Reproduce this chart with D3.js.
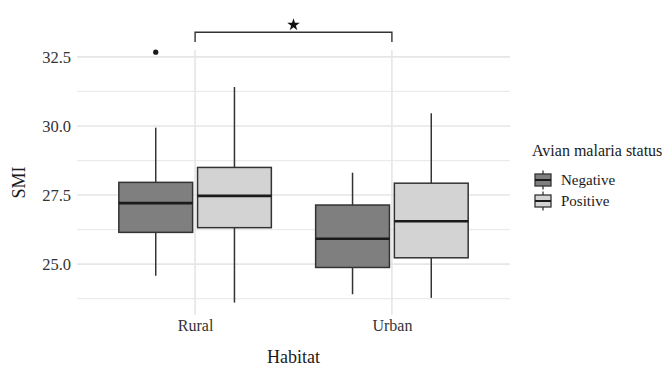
<!DOCTYPE html>
<html>
<head>
<meta charset="utf-8">
<script src="https://cdn.jsdelivr.net/npm/d3@7/dist/d3.min.js"></script>
<style>
  html, body { margin: 0; padding: 0; background: #ffffff; }
  svg text { font-family: "Liberation Serif", "Times New Roman", serif; fill: #1a1a1a; }
</style>
</head>
<body>
<svg id="chart" width="662" height="371"></svg>
<script>
// Habitat categories and infection groups
const habitats = ["Rural", "Urban"];
const statuses = ["Negative", "Positive"];
const statusFill = ["#7f7f7f", "#d3d3d3"];

// Box summaries per habitat, in status order: [lower whisker, Q1, median, Q3, upper whisker]
const ruralStats = [
  [24.58, 26.15, 27.21, 27.96, 29.94],
  [23.61, 26.32, 27.47, 28.50, 31.41]
];
const urbanStats = [
  [23.91, 24.88, 25.92, 27.14, 28.31],
  [23.78, 25.23, 26.55, 27.93, 30.46]
];
// Outlying observations: [habitat, status, value]
const outliers = [["Rural", "Negative", 32.67]];

// Y axis ticks
const majorTicks = [25.0, 27.5, 30.0, 32.5];
const minorTicks = [23.75, 26.25, 28.75, 31.25];

// Significance bracket between habitats
const bracketPair = ["Rural", "Urban"];
const bracketLevel = 33.39;
const bracketTip = 33.04;
const bracketLabelLevel = 33.66;

const serif = '"Liberation Serif", "Times New Roman", serif';
const svg = d3.select("#chart");
const panel = { left: 77, right: 510, top: 50, bottom: 315 };

const habitatIndex = d3.scaleOrdinal().domain(habitats).range([1, 2]);
const x = d3.scaleLinear().domain([0.4, 2.6]).range([panel.left, panel.right]);
const y = d3.scaleLinear().domain([23.16, 32.75]).range([panel.bottom, panel.top]);
const dodge = 0.2, boxWidth = 0.375;

const grid = svg.append("g");
grid.selectAll("line.minor").data(minorTicks).join("line")
  .attr("x1", panel.left).attr("x2", panel.right)
  .attr("y1", d => y(d)).attr("y2", d => y(d))
  .attr("stroke", "#ebebeb").attr("stroke-width", 1.2);
grid.selectAll("line.major").data(majorTicks).join("line")
  .attr("x1", panel.left).attr("x2", panel.right)
  .attr("y1", d => y(d)).attr("y2", d => y(d))
  .attr("stroke", "#e6e6e6").attr("stroke-width", 1.6);
grid.selectAll("line.vx").data(habitats).join("line")
  .attr("x1", d => x(habitatIndex(d))).attr("x2", d => x(habitatIndex(d)))
  .attr("y1", panel.top).attr("y2", panel.bottom)
  .attr("stroke", "#e6e6e6").attr("stroke-width", 1.6);

// Axes (text only, no axis lines)
const yAxis = d3.axisLeft(y).tickValues(majorTicks).tickFormat(d3.format(".1f")).tickSize(0).tickPadding(6);
const gy = svg.append("g").attr("transform", `translate(${panel.left},0)`).call(yAxis);
gy.select(".domain").remove();
gy.attr("font-family", null);
gy.selectAll("text").style("font-family", serif).style("font-size", "16.5px").style("fill", "#333333");

const xAxis = d3.axisBottom(d3.scalePoint().domain(habitats).range([x(1), x(2)])).tickSize(0).tickPadding(5);
const gx = svg.append("g").attr("transform", `translate(0,${panel.bottom})`).call(xAxis);
gx.select(".domain").remove();
gx.attr("font-family", null);
gx.selectAll("text").style("font-family", serif).style("font-size", "16px").style("fill", "#333333");

// Boxplots
const boxes = [];
habitats.forEach((h, hi) => {
  const stats = hi === 0 ? ruralStats : urbanStats;
  statuses.forEach((s, si) => {
    boxes.push({ habitat: h, status: s, si, v: stats[si] });
  });
});
const bx = d => habitatIndex(d.habitat) + (d.si === 0 ? -dodge : dodge);

const bg = svg.append("g").selectAll("g").data(boxes).join("g");
bg.append("line")
  .attr("x1", d => x(bx(d))).attr("x2", d => x(bx(d)))
  .attr("y1", d => y(d.v[0])).attr("y2", d => y(d.v[1]))
  .attr("stroke", "#333333").attr("stroke-width", 1.5);
bg.append("line")
  .attr("x1", d => x(bx(d))).attr("x2", d => x(bx(d)))
  .attr("y1", d => y(d.v[3])).attr("y2", d => y(d.v[4]))
  .attr("stroke", "#333333").attr("stroke-width", 1.5);
bg.append("rect")
  .attr("x", d => x(bx(d) - boxWidth / 2))
  .attr("width", d => x(bx(d) + boxWidth / 2) - x(bx(d) - boxWidth / 2))
  .attr("y", d => y(d.v[3]))
  .attr("height", d => y(d.v[1]) - y(d.v[3]))
  .attr("fill", d => statusFill[d.si])
  .attr("stroke", "#333333").attr("stroke-width", 1.5);
bg.append("line")
  .attr("x1", d => x(bx(d) - boxWidth / 2)).attr("x2", d => x(bx(d) + boxWidth / 2))
  .attr("y1", d => y(d.v[2])).attr("y2", d => y(d.v[2]))
  .attr("stroke", "#1a1a1a").attr("stroke-width", 2.6);

svg.append("g").selectAll("circle").data(outliers).join("circle")
  .attr("cx", d => x(habitatIndex(d[0]) + (statuses.indexOf(d[1]) === 0 ? -dodge : dodge)))
  .attr("cy", d => y(d[2]))
  .attr("r", 2.6).attr("fill", "#1a1a1a");

// Significance bracket
const bx1 = x(habitatIndex(bracketPair[0])), bx2 = x(habitatIndex(bracketPair[1]));
svg.append("path")
  .attr("d", `M${bx1},${y(bracketTip)}V${y(bracketLevel)}H${bx2}V${y(bracketTip)}`)
  .attr("fill", "none").attr("stroke", "#333333").attr("stroke-width", 1.4);
svg.append("path")
  .attr("d", d3.symbol().type(d3.symbolStar).size(48)())
  .attr("transform", `translate(${(bx1 + bx2) / 2},${y(bracketLabelLevel)})`)
  .attr("fill", "#111111");

// Axis titles
svg.append("text").attr("x", (panel.left + panel.right) / 2).attr("y", 363)
  .attr("text-anchor", "middle").attr("font-size", 18).text("Habitat");
svg.append("text")
  .attr("transform", `translate(25,${(panel.top + panel.bottom) / 2}) rotate(-90)`)
  .attr("text-anchor", "middle").attr("font-size", 18).text("SMI");

// Legend
const legend = svg.append("g").attr("transform", "translate(532,0)");
legend.append("text").attr("x", 0).attr("y", 156).attr("font-size", 16).text("Avian malaria status");
const keyW = 16, keyBoxH = 12, keyWhisk = 9.5;
const items = legend.selectAll("g.item").data(statuses).join("g")
  .attr("transform", (d, i) => `translate(3,${180 + i * 21})`);
items.append("line").attr("x1", keyW / 2).attr("x2", keyW / 2)
  .attr("y1", -keyWhisk).attr("y2", keyWhisk)
  .attr("stroke", "#333333").attr("stroke-width", 1.3);
items.append("rect").attr("x", 0).attr("y", -keyBoxH / 2)
  .attr("width", keyW).attr("height", keyBoxH)
  .attr("fill", (d, i) => statusFill[i]).attr("stroke", "#333333").attr("stroke-width", 1.3);
items.append("line").attr("x1", 0).attr("x2", keyW).attr("y1", 0).attr("y2", 0)
  .attr("stroke", "#1a1a1a").attr("stroke-width", 2);
items.append("text").attr("x", 26).attr("y", 5).attr("font-size", 15).text(d => d);
</script>
</body>
</html>
